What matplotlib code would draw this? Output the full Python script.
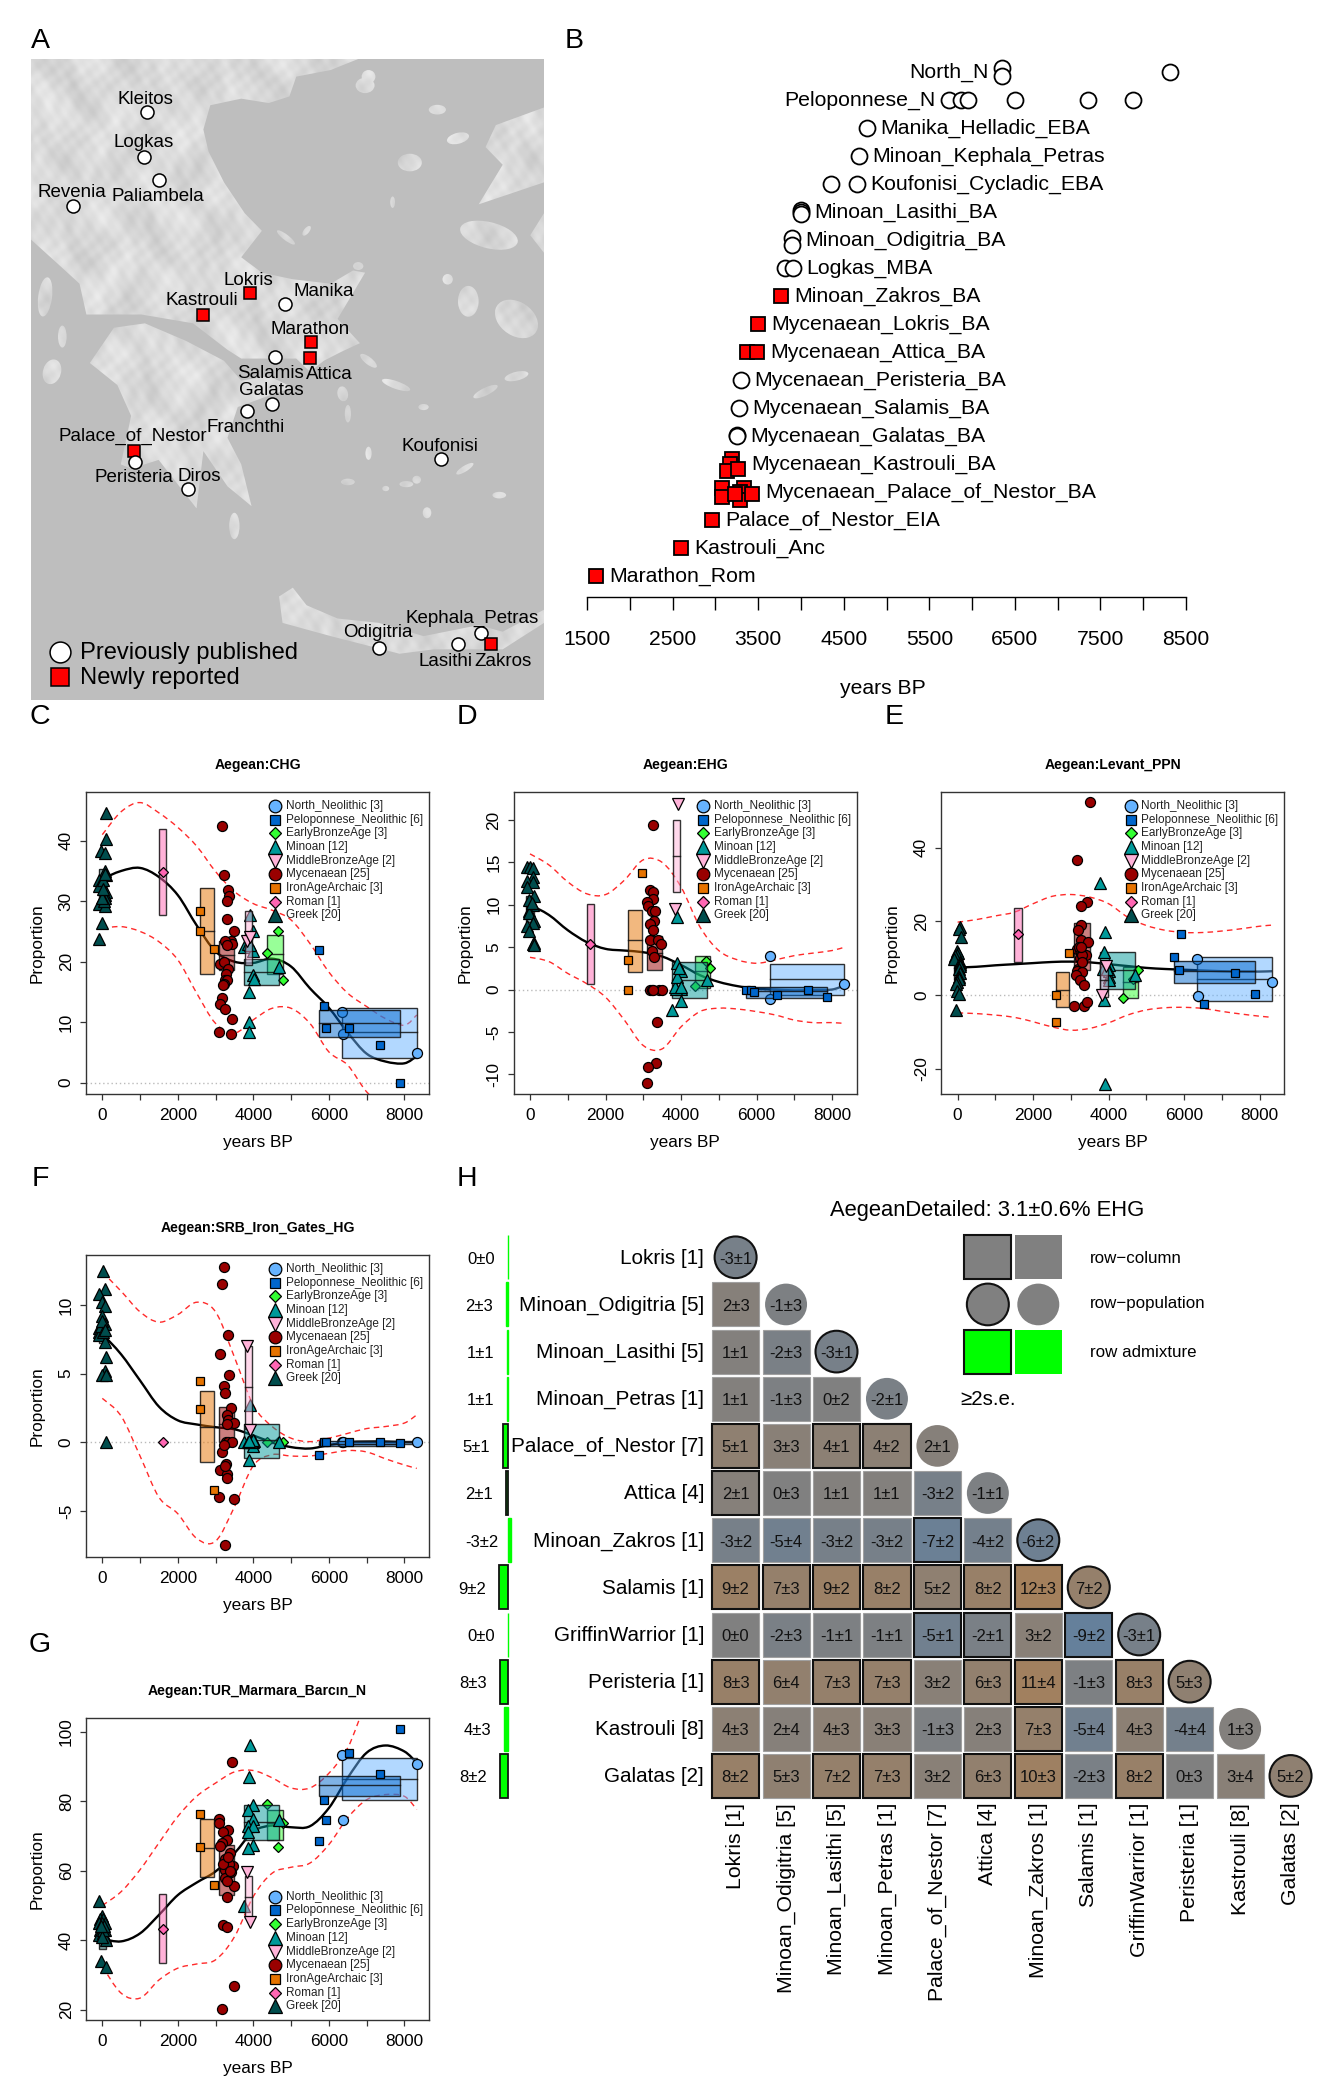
import numpy as np
import matplotlib
matplotlib.use("Agg")
import matplotlib.pyplot as plt
from matplotlib.colors import LinearSegmentedColormap, Normalize
from matplotlib.patches import Ellipse, PathPatch, Rectangle
from matplotlib.path import Path

plt.rcParams['font.family'] = ['Liberation Sans', 'DejaVu Sans']

W, H = 1335, 2100

# ---- panel A: sites on the map (in map units)
site_names = ['Kleitos', 'Logkas', 'Paliambela', 'Revenia', 'Lokris', 'Kastrouli', 'Manika', 'Marathon', 'Attica',
              'Salamis', 'Galatas', 'Franchthi', 'Palace_of_Nestor', 'Peristeria', 'Diros', 'Koufonisi',
              'Kephala_Petras', 'Odigitria', 'Lasithi', 'Zakros']
site_x = [366, 358, 400, 151, 665, 529, 768, 843, 841, 739, 729, 656, 329, 330, 485, 1220, 1336, 1040, 1271, 1366]
site_y = [211, 313, 365, 424, 622, 670, 647, 732, 769, 767, 872, 889, 980, 1004, 1067, 999, 1392, 1426, 1419, 1418]
site_new = [0, 0, 0, 0, 1, 1, 0, 1, 1, 0, 0, 0, 1, 0, 0, 0, 0, 0, 0, 1]
label_x = [363, 355, 397, 148, 662, 526, 881, 840, 895, 725, 726, 653, 326, 327, 517, 1217, 1311, 1037, 1235, 1400]
label_y = [182, 280, 402, 394, 592, 639, 617, 703, 806, 805, 842, 927, 946, 1041, 1038, 969, 1359, 1392, 1457, 1457]

mainland = [(29, 90), (980, 90), (900, 115), (800, 130), (780, 175), (720, 190), (640, 180), (550, 195), (530, 250),
            (545, 300), (590, 370), (650, 440), (700, 480), (660, 520), (640, 540), (700, 575), (790, 590), (900, 600),
            (965, 570), (1000, 575), (920, 680), (985, 735), (930, 755), (880, 775), (840, 800), (800, 770), (720, 770),
            (640, 770), (600, 750), (500, 690), (350, 670), (190, 670), (170, 600), (100, 550), (29, 500)]
peloponnese = [(200, 780), (270, 700), (360, 690), (480, 730), (590, 775), (640, 820), (720, 810), (790, 835),
               (700, 860), (630, 880), (600, 950), (640, 1010), (670, 1105), (600, 1060), (530, 980), (510, 1110),
               (460, 1060), (400, 1000), (320, 1020), (290, 1010), (320, 900), (280, 830)]
crete = [(750, 1310), (790, 1290), (830, 1330), (920, 1360), (1040, 1370), (1170, 1400), (1330, 1375), (1400, 1390),
         (1520, 1340), (1520, 1370), (1400, 1430), (1200, 1430), (1100, 1440), (1000, 1420), (900, 1400), (760, 1370)]
turkey = [(1520, 200), (1380, 240), (1350, 290), (1400, 330), (1330, 420), (1520, 370)]
turkey2 = [(1520, 440), (1480, 490), (1520, 530)]
islands = [(1000, 150, 55, 35, 0), (1210, 205, 50, 22, 0), (1270, 270, 65, 25, -10), (1130, 325, 70, 40, 0),
           (1080, 415, 14, 26, 0), (1010, 775, 55, 18, 30), (1090, 830, 85, 18, 15), (1170, 880, 30, 14, 0),
           (1350, 845, 75, 18, -20), (935, 850, 35, 30, 60), (950, 895, 18, 40, 0), (1010, 985, 18, 30, 0),
           (1360, 490, 170, 60, 10), (1300, 640, 60, 70, 0), (1440, 680, 130, 80, 20), (1290, 1020, 55, 14, -25),
           (1120, 1055, 40, 14, 0), (1060, 1065, 20, 12, 0), (950, 1050, 40, 15, 0), (1150, 1045, 25, 18, 0),
           (1180, 1120, 25, 25, 0), (1390, 1080, 40, 15, 0), (620, 1150, 30, 60, 0), (90, 800, 50, 60, 40),
           (70, 630, 40, 90, 10), (120, 720, 25, 50, 0), (1440, 810, 70, 20, -10), (980, 560, 30, 18, 0),
           (770, 495, 60, 14, 30), (830, 480, 30, 14, -40), (1010, 130, 40, 30, 0), (1240, 590, 30, 24, 0)]

# ---- panel B: dating by population, (age, row nudge)
b_names = ['North_N', 'Peloponnese_N', 'Manika_Helladic_EBA', 'Minoan_Kephala_Petras', 'Koufonisi_Cycladic_EBA',
           'Minoan_Lasithi_BA', 'Minoan_Odigitria_BA', 'Logkas_MBA', 'Minoan_Zakros_BA', 'Mycenaean_Lokris_BA',
           'Mycenaean_Attica_BA', 'Mycenaean_Peristeria_BA', 'Mycenaean_Salamis_BA', 'Mycenaean_Galatas_BA',
           'Mycenaean_Kastrouli_BA', 'Mycenaean_Palace_of_Nestor_BA', 'Palace_of_Nestor_EIA', 'Kastrouli_Anc',
           'Marathon_Rom']
b_new = [0, 0, 0, 0, 0, 0, 0, 0, 1, 1, 1, 0, 0, 0, 1, 1, 1, 1, 1]
b_ages = [[(6354, -.16), (6354, .14), (8317, 0)],
          [(5735, 0), (5872, 0), (5948, 0), (6496, 0), (7358, 0), (7880, 0)],
          [(4771, 0)], [(4680, 0)], [(4355, 0), (4655, 0)],
          [(3995, -.08), (4000, -.02), (4000, .04)],
          [(3894, -.1), (3894, .16)],
          [(3818, 0), (3909, 0)], [(3767, 0)], [(3498, 0)], [(3366, 0), (3483, 0)], [(3295, 0)], [(3280, 0)],
          [(3250, -.05), (3250, 0)],
          [(3199, -.2), (3174, 0), (3133, .25), (3260, .18)],
          [(3082, -.15), (3082, .17), (3336, -.15), (3285, 0), (3285, .28), (3427, .05), (3235, .05)],
          [2956], [2595], [1611]]
b_ticks = list(range(1500, 9000, 500))

# ---- panels C-G: shared series setup
group_names = ['North_Neolithic [3]', 'Peloponnese_Neolithic [6]', 'EarlyBronzeAge [3]', 'Minoan [12]',
               'MiddleBronzeAge [2]', 'Mycenaean [25]', 'IronAgeArchaic [3]', 'Roman [1]', 'Greek [20]']
group_colors = ['#66B3FF', '#0066CC', '#33FF33', '#009999', '#FFB3D9', '#990000', '#E67300', '#FF66B3', '#004D4D']
group_markers = ['o', 's', 'D', '^', 'v', 'o', 's', 'D', '^']
group_ms = [7.2, 5.6, 5, 8.6, 8.6, 7.2, 5.6, 5, 8.6]
legend_ms = [9.1, 6.7, 6.5, 10.5, 10.5, 9.1, 6.7, 6.5, 10.5]

curve_age = [0, 500, 1000, 1500, 2000, 2500, 3000, 3500, 4000, 4500, 5000, 5500, 6000, 6500, 7000, 7500, 8000, 8330]

# C: Aegean:CHG
chg_fit = [33.7, 35.0, 35.5, 34.0, 31.0, 26.0, 21.7, 20.0, 19.8, 20.5, 19.2, 15.6, 12.4, 8.3, 4.8, 3.5, 3.2, 4.4]
chg_up = [41, 44.8, 46.3, 44.6, 42.2, 39.1, 34.9, 31.6, 29.6, 28.5, 26.9, 23, 18.3, 14.8, 12.6, 10.6, 9.5, 11.2]
chg_low = [25.5, 25.8, 25, 23.3, 20.3, 14.8, 9.8, 8.2, 10.4, 12.3, 12.3, 9.8, 5.1, 2.9, -1.5, -4, -6, -5]
chg_north = [(6350, 11.7), (6370, 8), (8330, 4.9)]
chg_pelop = [(5730, 21.9), (5860, 12.7), (5930, 9.1), (6530, 9.1), (7360, 6.2), (7880, 0)]
chg_eba = [(4370, 21.5), (4650, 25.1), (4780, 17)]
chg_minoan = [(3760, 22.5), (3900, 27.7), (4000, 25), (4000, 21.8), (4000, 17.8), (4010, 17.2), (3890, 15), (3880, 10),
              (3880, 8.4), (4690, 19.2), (3850, 23), (3900, 22.8)]
chg_mba = [(3830, 23.4), (3920, 24)]
chg_myc = [(3170, 42.5), (3230, 34.3), (3340, 31.8), (3350, 30.8), (3290, 30), (3290, 27), (3500, 25), (3410, 23.5),
           (3430, 22.9), (3260, 23.5), (3290, 22.7), (3110, 19.7), (3230, 20), (3340, 18.8), (3270, 18), (3260, 17),
           (3290, 16.9), (3220, 16.3), (3170, 14), (3130, 13), (3240, 12.2), (3430, 10.5), (3080, 8.4), (3420, 8.1),
           (3200, 16.2)]
chg_iron = [(2600, 28.4), (2600, 25), (2960, 22.1)]
chg_roman = [(1600, 34.8)]
chg_greek = [(-100, 23.8), (0, 26.4), (100, 44.6), (100, 40.2), (-30, 38.3), (80, 38), (80, 35), (100, 34.3),
             (-90, 33.5), (-80, 32.5), (100, 31.5), (70, 31), (80, 30.5), (-100, 29.5), (70, 29.2), (30, 33.5),
             (60, 34.5), (50, 30), (0, 30.5), (20, 32)]
chg_lo = [4, 7.6, 17.9, 16.2, 19.4, 18.7, 18, 27.7, 29]
chg_mid = [8.3, 9.8, 21.2, 18.3, 23.7, 21.1, 25.1, 34.8, 32.5]
chg_hi = [12.3, 12, 24.4, 20.4, 28.3, 23.5, 32.2, 42, 35.3]

# D: Aegean:EHG
ehg_fit = [10, 8.8, 7, 5.6, 4.8, 4.6, 4.4, 3.9, 2.9, 1.7, .9, .4, .1, 0, -.1, -.05, 0, .5]
ehg_up = [16, 14.7, 12.7, 11.3, 11.2, 12.9, 15.3, 15, 12.1, 7.4, 4.6, 3.5, 3.1, 3.5, 4, 4.3, 4.6, 5]
ehg_low = [3.8, 3.3, 1.9, .7, -.9, -3.6, -6.6, -7, -4.4, -2.6, -2.2, -2.3, -2.6, -3, -3.6, -3.9, -3.9, -4]
ehg_north = [(6350, 4), (6370, -1.1), (8330, .6)]
ehg_pelop = [(5730, 0), (5860, 0), (5930, -.3), (6530, -.7), (7360, 0), (7880, -.9)]
ehg_eba = [(4370, .4), (4650, 3.4), (4780, 2.6)]
ehg_minoan = [(3760, -2.4), (3900, 8.5), (3890, 3.1), (4000, 2.2), (4000, .1), (4010, -1.3), (3880, .1), (3850, .3),
              (4690, 1.1), (3900, 1.5), (3950, 2.5), (4000, .3)]
ehg_mba = [(3830, 9.5), (3920, 21.9)]
ehg_myc = [(3250, 19.4), (3170, 11.7), (3270, 11.5), (3250, 10.7), (3100, 10.3), (3130, 9.9), (3230, 9.3), (3300, 9.3),
           (3290, 8.1), (3170, 7.7), (3270, 7), (3180, 5.8), (3400, 5.8), (3480, 5.4), (3240, 4.6), (3280, 3.8),
           (3170, 0), (3230, 0), (3420, 0), (3500, 0), (3360, -3.8), (3340, -8.7), (3130, -9.1), (3110, -11), (3260, 0)]
ehg_iron = [(2600, 3.5), (2600, 0), (2960, 13.8)]
ehg_roman = [(1600, 5.4)]
ehg_greek = [(-90, 14.5), (10, 14.4), (90, 14.3), (90, 13.3), (-90, 12.8), (90, 12.7), (-90, 12.1), (100, 11),
             (-20, 10.6), (80, 10), (-30, 9.3), (-20, 9), (100, 8.1), (80, 7.8), (-80, 7.5), (-20, 6.9), (100, 5.5),
             (90, 5.4), (100, 5.3), (40, 10.2)]
ehg_lo = [-.7, -1, .2, -1, 11.5, 2.3, 2.1, .6, 8]
ehg_mid = [1.2, -.2, 2.2, 1.1, 15.8, 4.3, 5.8, 5.4, 9.8]
ehg_hi = [3, .3, 4, 3.2, 20, 6.3, 9.4, 10.1, 11]

# E: Aegean:Levant_PPN
lev_fit = [7.5, 7.7, 8.1, 8.4, 8.7, 9.0, 9.1, 8.9, 8.4, 7.9, 7.4, 7.1, 6.9, 6.7, 6.5, 6.4, 6.4, 6.5]
lev_up = [19.8, 20.5, 21.5, 22.5, 24.8, 26.8, 27.3, 26.6, 24.8, 21.2, 18.9, 17.6, 17, 17, 17.4, 18, 18.7, 19]
lev_low = [-4.8, -5, -5.4, -6, -7.2, -8.6, -9.5, -9, -7.5, -5.4, -4, -3.4, -3.3, -3.6, -4.4, -5.1, -5.7, -6]
lev_north = [(6350, 9.7), (6370, -.2), (8330, 3.5)]
lev_pelop = [(5730, 10.4), (5930, 16.6), (5860, 6.8), (6530, -2.4), (7360, 5.9), (7880, .2)]
lev_eba = [(4370, -.9), (4650, 4.5), (4780, 6.7)]
lev_minoan = [(3760, 30.5), (3900, 17), (3890, 11.6), (4000, 8.1), (4000, 6.5), (4010, 5), (4000, 4), (3880, -1.2),
              (3900, -24), (4690, 5.5), (3850, 7), (3950, 7)]
lev_mba = [(3830, 0), (3920, 8)]
lev_myc = [(3500, 52.3), (3170, 36.7), (3430, 25.2), (3270, 24.2), (3270, 19), (3180, 17.7), (3260, 15), (3450, 14.3),
           (3150, 12.5), (3230, 12.3), (3400, 10.8), (3240, 10), (3200, 7), (3170, 6.5), (3290, 6.3), (3140, 5.5),
           (3240, 4.2), (3360, 2.7), (3080, -3), (3340, -2.8), (3440, -1.8), (3290, 11), (3220, 13), (3300, 9),
           (3280, 13)]
lev_iron = [(2600, 0), (2600, -7.2), (2960, 11.5)]
lev_roman = [(1600, 16.5)]
lev_greek = [(-40, -4), (60, 18.5), (50, 18), (80, 15.8), (-10, 12), (0, 11.5), (-20, 11), (-60, 10.5), (-90, 9.8),
             (60, 9), (60, 8.5), (70, 7.8), (50, 7), (60, 6), (30, 5), (50, 4.4), (-20, 3.6), (-40, 3), (-10, 1),
             (40, .2)]
lev_lo = [-1.6, 3.3, -.7, 1.8, -.5, 6.7, -3.2, 8.9, 4]
lev_mid = [4.4, 6.5, 3.6, 6.7, 4, 13, 1.3, 16.4, 7.5]
lev_hi = [10.3, 9.3, 7.7, 11.6, 8.5, 19.6, 6.2, 23.7, 11]

# F: Aegean:SRB_Iron_Gates_HG
srb_fit = [7.9, 6.4, 4.5, 2.6, 1.6, 1.3, 1.1, .95, .5, 0, -.35, -.45, -.2, 0, .05, .05, 0, 0]
srb_up = [12.4, 11, 9.5, 8.75, 9.3, 10.2, 9.5, 6.2, 2.7, 1.15, .3, .05, .3, .65, 1, 1.15, 1.4, 2]
srb_low = [3.2, 1.9, -1, -4, -5.2, -7, -7.2, -4.7, -1.7, -.9, -1, -1, -.8, -.6, -.7, -1.2, -1.65, -1.9]
srb_north = [(6350, 0), (6370, 0), (8330, 0)]
srb_pelop = [(5730, -.95), (5860, 0), (5930, 0), (6530, 0), (7360, 0), (7880, -.05)]
srb_eba = [(4370, 0), (4650, 0), (4780, 0)]
srb_minoan = [(3760, 0), (3900, 2.7), (3850, 0), (3890, -1.3), (4000, 0), (4000, -.3), (4010, .1), (3900, .1),
              (4690, 0), (3950, 0), (4000, .2), (3880, .1)]
srb_mba = [(3830, 7), (3920, .9)]
srb_myc = [(3220, 12.8), (3170, 11.5), (3340, 7.8), (3130, 6.4), (3360, 4.9), (3220, 4.1), (3260, 3.6), (3420, 2.5),
           (3300, 2), (3320, 1.6), (3480, 1.4), (3300, 1.3), (3270, 0), (3330, 0), (3430, 0), (3170, -.7), (3220, -.2),
           (3270, -1.6), (3120, -2), (3290, -2.3), (3310, -2.6), (3090, -4), (3500, -4.1), (3250, -7.5), (3240, -1.7)]
srb_iron = [(2600, 4.5), (2600, 2.4), (2960, -3.5)]
srb_roman = [(1600, 0)]
srb_greek = [(100, 0), (15, 12.5), (70, 11.2), (-80, 10.8), (-20, 10.2), (70, 9.9), (-10, 9.2), (80, 8.6), (-80, 8.3),
             (-90, 8), (-90, 7.8), (80, 7.3), (100, 6.2), (80, 5.2), (0, 4.9), (90, 4.9), (-30, 8.5), (30, 8), (0, 8.8),
             (60, 8.2)]
srb_lo = [-.1, -.3, -.02, -1.15, 1, 0, -1.45, None, 7.2]
srb_mid = [0, -.1, 0, .15, 4, 1.3, 1.15, None, 8]
srb_hi = [.1, .1, .02, 1.35, 7, 2.6, 3.7, None, 8.9]

# G: Aegean:TUR_Marmara_Barcın_N
tur_fit = [40.4, 39.7, 42, 47.3, 53, 56.6, 59.8, 65, 71.3, 73, 72.5, 72.8, 78, 86.7, 93.9, 96, 94.3, 91]
tur_up = [50, 54, 60.3, 68, 75.6, 81.4, 85.2, 88.4, 88.8, 86.7, 83.8, 83.8, 88, 95.3, 108, 112, 113, 110]
tur_low = [32.5, 24.8, 23.4, 28.6, 32, 33.2, 34.4, 41, 52.6, 59.3, 61, 62.2, 67.5, 75.2, 80.4, 81.9, 81.4, 77.6]
tur_north = [(6350, 93.2), (6370, 74.5), (8330, 90.8)]
tur_pelop = [(5730, 68.5), (5860, 80.3), (5930, 74.6), (6530, 93.7), (7360, 87.9), (7880, 100.8)]
tur_eba = [(4370, 79.2), (4650, 66.8), (4780, 73.7)]
tur_minoan = [(3760, 50), (3900, 96.2), (3890, 86.8), (4000, 79), (3850, 77.5), (4000, 75), (3850, 73), (4000, 73),
              (3860, 71), (4000, 67.5), (3860, 66.5), (4690, 74.5)]
tur_mba = [(3830, 59.5), (3920, 45.2)]
tur_myc = [(3430, 91.2), (3080, 75), (3100, 73.7), (3340, 71.8), (3200, 71.2), (3300, 68.9), (3170, 68), (3120, 67),
           (3370, 65), (3240, 63.5), (3450, 61.5), (3420, 59.5), (3240, 60.3), (3240, 58), (3480, 55.6), (3290, 52.5),
           (3190, 44.5), (3290, 43.7), (3500, 26.8), (3170, 20.2), (3350, 62), (3300, 57), (3200, 62), (3370, 60),
           (3330, 64)]
tur_iron = [(2600, 76.2), (2600, 66.9), (2960, 56)]
tur_roman = [(1600, 43.3)]
tur_greek = [(-80, 51.2), (-10, 47), (-50, 46), (30, 46), (-90, 45), (80, 45), (0, 44), (-60, 43), (-80, 41.5), (60, 41),
             (30, 42), (100, 40), (60, 43), (-30, 34), (100, 32.2), (-20, 45), (10, 43), (50, 44), (0, 41), (-40, 44)]
tur_lo = [80.2, 81.5, 68.8, 68.8, 46.3, 52.9, 58.2, 33.5, 37.5]
tur_mid = [86.3, 84.5, 73.8, 74, 52.5, 60.1, 66.5, 43.4, 40.7]
tur_hi = [92.4, 87.2, 77.6, 78.9, 58.6, 67.3, 74.9, 53.2, 44]

# ---- panel H
h_names = ['Lokris [1]', 'Minoan_Odigitria [5]', 'Minoan_Lasithi [5]', 'Minoan_Petras [1]', 'Palace_of_Nestor [7]',
           'Attica [4]', 'Minoan_Zakros [1]', 'Salamis [1]', 'GriffinWarrior [1]', 'Peristeria [1]', 'Kastrouli [8]',
           'Galatas [2]']
h_mean = [[-3], [2, -1], [1, -2, -3], [1, -1, 0, -2], [5, 3, 4, 4, 2], [2, 0, 1, 1, -3, -1], [-3, -5, -3, -3, -7, -4, -6],
          [9, 7, 9, 8, 5, 8, 12, 7], [0, -2, -1, -1, -5, -2, 3, -9, -3], [8, 6, 7, 7, 3, 6, 11, -1, 8, 5],
          [4, 2, 4, 3, -1, 2, 7, -5, 4, -4, 1], [8, 5, 7, 7, 3, 6, 10, -2, 8, 0, 3, 5]]
h_se = [[1], [3, 3], [1, 3, 1], [1, 3, 2, 1], [1, 3, 1, 2, 1], [1, 3, 1, 1, 2, 1], [2, 4, 2, 2, 2, 2, 2],
        [2, 3, 2, 2, 2, 2, 3, 2], [0, 3, 1, 1, 1, 1, 2, 2, 1], [3, 4, 3, 3, 2, 3, 4, 3, 3, 3],
        [3, 4, 3, 3, 3, 3, 3, 4, 3, 4, 3], [2, 3, 2, 3, 2, 3, 3, 3, 2, 3, 4, 2]]
h_sig = [[1], [0, 0], [0, 0, 1], [0, 0, 0, 0], [1, 0, 1, 1, 0], [1, 0, 0, 0, 0, 0], [0, 0, 0, 0, 1, 0, 1],
         [1, 1, 1, 1, 1, 1, 1, 1], [0, 0, 0, 0, 1, 1, 0, 1, 1], [1, 0, 1, 1, 0, 1, 1, 0, 1, 1],
         [0, 0, 0, 0, 0, 0, 1, 0, 0, 0, 0], [1, 0, 1, 1, 0, 1, 1, 0, 1, 0, 0, 1]]
adm_mean = [0, 2, 1, 1, 5, 2, -3, 9, 0, 8, 4, 8]
adm_se = [0, 3, 1, 1, 1, 1, 2, 2, 0, 3, 3, 2]
adm_sig = [0, 0, 0, 0, 1, 1, 0, 1, 0, 1, 0, 1]

fig = plt.figure(figsize=(W / 100, H / 100), dpi=100)


def px_axes(x0, y0, x1, y1):
    return fig.add_axes([x0 / W, 1 - y1 / H, (x1 - x0) / W, (y1 - y0) / H])


def smooth_path(xs, ys):
    # bezier segments through the read nodes, so the curves do not look angular
    pts = np.column_stack([xs, ys]).astype(float)
    verts = [pts[0]]
    codes = [Path.MOVETO]
    n = len(pts)
    for i in range(n - 1):
        c1 = pts[i] + (pts[i + 1] - pts[max(i - 1, 0)]) / 6
        c2 = pts[i + 1] - (pts[min(i + 2, n - 1)] - pts[i]) / 6
        verts += [c1, c2, pts[i + 1]]
        codes += [Path.CURVE4] * 3
    return Path(verts, codes)


for letter, lx, ly in [('A', 40, 40.5), ('B', 574, 41.5), ('C', 40, 717.5), ('D', 467, 717.5), ('E', 894, 717.5),
                       ('F', 40, 1179.5), ('G', 40, 1644.5), ('H', 467, 1179.5)]:
    fig.text(lx / W, 1 - ly / H, letter, fontsize=20.5, ha='center', va='center')

# ---- A
ax = px_axes(31, 59, 544, 700)
ax.set_facecolor('#BEBEBE')
gx, gy = np.meshgrid(np.linspace(29, 1520, 520), np.linspace(90, 1545, 640))
relief = (.8 * np.sin(gx / 31 + 1.6 * np.sin(gy / 47)) + .8 * np.sin(gy / 29 + 1.6 * np.sin(gx / 43))
          + .6 * np.sin(gx / 13 - gy / 19 + 1.5 * np.sin(gx / 37 + gy / 53))
          + .5 * np.sin(gx / 9 + gy / 8 + 1.2 * np.sin(gy / 21))
          + .3 * np.sin(gx / 5.3 - gy / 6.1))
land = .855 + .024 * relief
img = ax.imshow(land, extent=(29, 1520, 1545, 90), cmap='gray', vmin=0, vmax=1, aspect='auto', interpolation='bilinear')
verts, codes = [], []
for poly in [mainland, peloponnese, crete, turkey, turkey2]:
    verts += poly + [poly[0]]
    codes += [Path.MOVETO] + [Path.LINETO] * (len(poly) - 1) + [Path.CLOSEPOLY]
for cx, cy, ew, eh, ang in islands:
    p = Ellipse((cx, cy), ew, eh, angle=ang)
    tr = p.get_patch_transform().transform_path(p.get_path())
    verts += [tuple(v) for v in tr.vertices]
    codes += list(tr.codes)
clip = PathPatch(Path(verts, codes), transform=ax.transData, fc='none', ec='none')
ax.add_patch(clip)
img.set_clip_path(clip)
for name, sx, sy, new, tx, ty in zip(site_names, site_x, site_y, site_new, label_x, label_y):
    if new:
        ax.plot(sx, sy, 's', mfc='#FF0000', mec='black', mew=1.1, ms=8.5)
    else:
        ax.plot(sx, sy, 'o', mfc='white', mec='black', mew=1.1, ms=9.4)
    ax.text(tx, ty, name, fontsize=13.5, ha='center', va='center')
ax.plot(113, 1437, 'o', mfc='white', mec='black', mew=1.1, ms=15)
ax.plot(113, 1493, 's', mfc='#FF0000', mec='black', mew=1.1, ms=13)
ax.text(172, 1439, 'Previously published', fontsize=17.1, va='center')
ax.text(172, 1496, 'Newly reported', fontsize=17.1, va='center')
ax.set_xlim(29, 1520)
ax.set_ylim(1545, 90)
ax.set_xticks([])
ax.set_yticks([])
for s in ax.spines.values():
    s.set_visible(False)

# ---- B
ax = px_axes(560, 60, 1240, 597)
ax.patch.set_alpha(0)
for row, (name, ages, new) in enumerate(zip(b_names, b_ages, b_new)):
    ages = [a if isinstance(a, tuple) else (a, 0) for a in ages]
    for age, dy in ages:
        if new:
            ax.plot(age, row + dy, 's', mfc='#FF0000', mec='black', mew=1.3, ms=9.4, clip_on=False)
        else:
            ax.plot(age, row + dy, 'o', mfc='white', mec='black', mew=1.3, ms=11.5, clip_on=False)
    only = [a[0] for a in ages]
    if row < 2:
        ax.annotate(name, (min(only), row), xytext=(-10, 0), textcoords='offset points', fontsize=15.3,
                    ha='right', va='center')
    else:
        ax.annotate(name, (max(only), row), xytext=(9.5, 0), textcoords='offset points', fontsize=15.3,
                    ha='left', va='center')
ax.set_xlim(1184.5, 9131)
ax.set_ylim(18.736, -.443)
for s in ['top', 'left', 'right']:
    ax.spines[s].set_visible(False)
ax.spines['bottom'].set_bounds(1500, 8500)
ax.spines['bottom'].set_linewidth(1)
ax.set_yticks([])
ax.set_xticks(b_ticks)
ax.set_xticklabels([str(t) if (t - 1500) % 1000 == 0 else '' for t in b_ticks], fontsize=15.2)
ax.tick_params(axis='x', length=9.7, width=1, pad=14)
ax.set_xlabel('years BP', fontsize=15.2, va='center')
ax.xaxis.set_label_coords((883 - 560) / 680, -(689 - 597) / 537)


# ---- C-G
def mortality_panel(box, title, fit, up, low, series, lo, mid, hi, ylim, yticks, legend_top):
    ax = px_axes(*box)
    ax.axhline(0, color='#BBBBBB', lw=1, ls=(0, (1, 2)), zorder=1)
    for curve in (up, low):
        ax.add_patch(PathPatch(smooth_path(curve_age, curve), fc='none', ec='#FF2A2A', lw=1, ls=(0, (4, 3)), zorder=2))
    ax.add_patch(PathPatch(smooth_path(curve_age, fit), fc='none', ec='black', lw=1.7, zorder=2))
    z = 3
    for k, pts in enumerate(series):
        xs = [p[0] for p in pts]
        ys = [p[1] for p in pts]
        x0, x1 = min(xs), max(xs)
        if x1 - x0 < 200:
            c = (x0 + x1) / 2
            x0, x1 = c - 100, c + 100
        if lo[k] is not None:
            ax.add_patch(Rectangle((x0, lo[k]), x1 - x0, hi[k] - lo[k], fc=group_colors[k], alpha=.5, ec='none', zorder=z))
            ax.add_patch(Rectangle((x0, lo[k]), x1 - x0, hi[k] - lo[k], fc='none', ec='#111111', lw=1, alpha=.85, zorder=z))
            ax.plot([x0, x1], [mid[k], mid[k]], color='#111111', lw=1, alpha=.85, zorder=z)
        ax.plot(xs, ys, ls='none', marker=group_markers[k], ms=group_ms[k], mfc=group_colors[k], mec='black', mew=.9,
                zorder=z + .5)
        z += 1
    for k, name in enumerate(group_names):
        yy = 1 - legend_top - k * .0453
        ax.plot(.552, yy, marker=group_markers[k], ms=legend_ms[k], mfc=group_colors[k], mec='black', mew=.9,
                transform=ax.transAxes, zorder=20, ls='none')
        ax.text(.583, yy, name, transform=ax.transAxes, fontsize=8.5, va='center', color='#222222', zorder=20)
    ax.set_xlim(-432, 8654)
    ax.set_ylim(*ylim)
    ax.set_xticks(range(0, 9000, 1000))
    ax.set_xticklabels(['0', '', '2000', '', '4000', '', '6000', '', '8000'], fontsize=12.4)
    ax.set_yticks(yticks)
    ax.set_yticklabels([str(t) for t in yticks], fontsize=12.4, rotation=90, va='center')
    ax.tick_params(length=4.3, width=.9, color='#333333')
    ax.tick_params(axis='x', pad=5.7)
    ax.tick_params(axis='y', pad=4.5)
    for s in ax.spines.values():
        s.set_linewidth(1)
        s.set_color('#333333')
    ax.set_xlabel('years BP', fontsize=12.4, va='center')
    ax.xaxis.set_label_coords(.5, -48.7 / 302)
    ax.set_ylabel('Proportion', fontsize=12.4, va='center')
    ax.yaxis.set_label_coords(-49 / 343, .5)
    ax.text(.5, 1 + 27 / 302, title, transform=ax.transAxes, fontsize=10.1, fontweight='bold', ha='center', va='center')


mortality_panel((86, 792, 429, 1094), 'Aegean:CHG', chg_fit, chg_up, chg_low,
                [chg_north, chg_pelop, chg_eba, chg_minoan, chg_mba, chg_myc, chg_iron, chg_roman, chg_greek],
                chg_lo, chg_mid, chg_hi, (-1.87, 48.05), [0, 10, 20, 30, 40], .0464)
mortality_panel((513.7, 792, 856.7, 1094), 'Aegean:EHG', ehg_fit, ehg_up, ehg_low,
                [ehg_north, ehg_pelop, ehg_eba, ehg_minoan, ehg_mba, ehg_myc, ehg_iron, ehg_roman, ehg_greek],
                ehg_lo, ehg_mid, ehg_hi, (-12.32, 23.3), [-10, -5, 0, 5, 10, 15, 20], .0464)
mortality_panel((941.3, 792, 1284.3, 1094), 'Aegean:Levant_PPN', lev_fit, lev_up, lev_low,
                [lev_north, lev_pelop, lev_eba, lev_minoan, lev_mba, lev_myc, lev_iron, lev_roman, lev_greek],
                lev_lo, lev_mid, lev_hi, (-26.8, 55.1), [-20, 0, 20, 40], .0464)
mortality_panel((86, 1255, 429, 1556.7), 'Aegean:SRB_Iron_Gates_HG', srb_fit, srb_up, srb_low,
                [srb_north, srb_pelop, srb_eba, srb_minoan, srb_mba, srb_myc, srb_iron, srb_roman, srb_greek],
                srb_lo, srb_mid, srb_hi, (-8.33, 13.64), [-5, 0, 5, 10], .0464)
mortality_panel((86, 1718, 429, 2020), 'Aegean:TUR_Marmara_Barcın_N', tur_fit, tur_up, tur_low,
                [tur_north, tur_pelop, tur_eba, tur_minoan, tur_mba, tur_myc, tur_iron, tur_roman, tur_greek],
                tur_lo, tur_mid, tur_hi, (17.1, 103.9), [20, 40, 60, 80, 100], .592)

# ---- H
ax = px_axes(450, 1180, 1335, 2100)
ax.set_xlim((450 - 735.6) / 50.45, (1335 - 735.6) / 50.45)
ax.set_ylim((2100 - 1257.3) / 47.15, (1180 - 1257.3) / 47.15)
ax.axis('off')
cmap = LinearSegmentedColormap.from_list('brownblue', ['#4480BC', '#808080', '#BC8044'])
norm = Normalize(-20, 20)
zero = -4.505
scale = .0208
for i, name in enumerate(h_names):
    ax.text(-.626, i + .02, name, fontsize=14.9, ha='right', va='center')
    ax.text(i, 11.57, name, fontsize=15.3, rotation=90, ha='center', va='top')
    # admixture bar
    v = adm_mean[i]
    left = zero - v * scale
    ax.add_patch(Rectangle((min(left, zero), i - .466), abs(v * scale), .933, fc='#00FF00',
                           ec='#111111' if adm_sig[i] else '#00FF00', lw=1.3 if adm_sig[i] else 1, zorder=3))
    ax.text(left - .2577, i + .04, f'{v}±{adm_se[i]}', fontsize=12, ha='right', va='center')
    for j in range(i + 1):
        m, s, b = h_mean[i][j], h_se[i][j], h_sig[i][j]
        col = cmap(norm(m))
        edge = '#111111' if b else '#A0A0A0'
        width = 1.5 if b else .8
        if j == i:
            if not b:
                edge = 'none'
            ax.add_patch(Ellipse((j, i), .832, .884, fc=col, ec=edge, lw=width, zorder=2))
        else:
            ax.add_patch(Rectangle((j - .466, i - .466), .933, .933, fc=col, ec=edge, lw=width, zorder=2))
        ax.text(j, i + .04, f'{m}±{s}', fontsize=12, ha='center', va='center', color='#111111', zorder=4)

# key in H
for r, mk in enumerate(['cell', 'disc', 'bar']):
    for c, bordered in [(5, True), (6, False)]:
        edge = '#111111' if bordered else 'none'
        fc = '#00FF00' if mk == 'bar' else '#808080'
        if mk == 'disc':
            ax.add_patch(Ellipse((c, r), .832, .884, fc=fc, ec=edge, lw=1.5))
        else:
            ax.add_patch(Rectangle((c - .466, r - .466), .933, .933, fc=fc, ec=edge, lw=1.5))
key_x = (1089.5 - 735.6) / 50.45
ax.text(key_x, 0.02, 'row−column', fontsize=12.2, va='center')
ax.text(key_x, .99, 'row−population', fontsize=12.2, va='center')
ax.text(key_x, 2.02, 'row admixture', fontsize=12.2, va='center')
ax.text(5, 3.02, '≥2s.e.', fontsize=14.8, ha='center', va='center')
ax.text((987.6 - 735.6) / 50.45, (1210.5 - 1257.3) / 47.15, 'AegeanDetailed: 3.1±0.6% EHG', fontsize=15.8, ha='center',
        va='center')

fig.savefig('out.png', dpi=100)
